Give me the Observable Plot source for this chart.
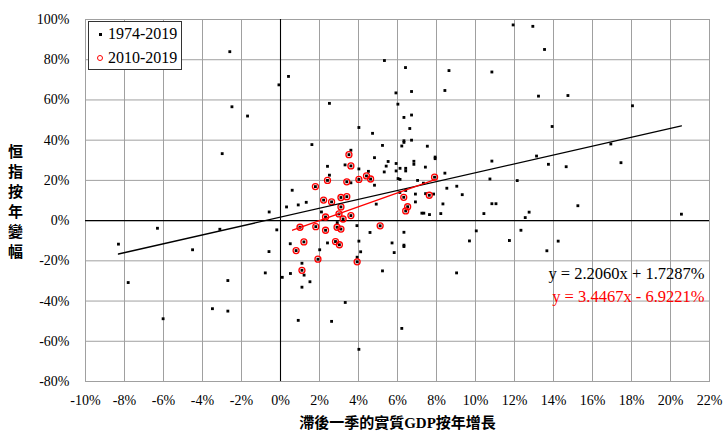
<!DOCTYPE html>
<html>
<head>
<meta charset="utf-8">
<script src="https://cdn.jsdelivr.net/npm/d3@7"></script>
<script src="https://cdn.jsdelivr.net/npm/@observablehq/plot@0.6"></script>
<style>
  body { margin: 0; background: #fff; }
  #wrap { position: relative; width: 723px; height: 431px; overflow: hidden; }
  .legend { position: absolute; left: 88px; top: 21px; width: 92px; height: 47px; border: 1px solid #333; background: #fff;
    font-family: "Liberation Serif", serif; font-size: 16px; color: #000; }
  .legend .row { position: absolute; left: 0; height: 18px; line-height: 18px; width: 92px; }
  .legend .sq { position: absolute; left: 9.5px; top: 7.5px; width: 3px; height: 3px; background: #000; }
  .legend .circ { position: absolute; left: 7.5px; top: 5.5px; width: 4.5px; height: 4.5px; border: 1.3px solid #ff0000; border-radius: 50%; }
  .legend .lbl { position: absolute; left: 19px; top: 0; }
</style>
</head>
<body>
<div id="wrap"></div>
<script>
// 1974-2009 quarters (black squares only) — x: lagged real GDP yoy %, y: HSI yoy %
const blackX = [-2.60, 0.41, -0.08, -2.49, -1.69, -2.99, 0.31, -0.58, -6.31, -3.11, -0.19, -8.31, -4.51, -0.59, 0.50, -0.78, 0.09, 0.51, -7.81, -2.70, -3.49, -2.70, -6.02,
  5.33, 6.41, 8.64, 5.92, 6.72, 8.43, 2.51, 6.02, 6.33, 6.72, 4.02, 6.63, 4.72, 1.61, 6.33, 6.33, 6.72, 5.23, 6.22, 7.53, 3.61, 4.82, 7.93, 7.93, 5.52, 6.84, 6.84, 5.93,
  2.41, 3.31, 5.42, 4.02, 6.13, 6.42, 6.42, 7.43, 2.51, 4.51, 5.32, 5.93, 8.43, 6.03, 6.13, 3.61, 7.03, 7.33, 4.82, 8.53, 9.04, 10.74, 0.60, 6.42, 6.12, 6.92, 7.44, 7.85,
  9.32, 1.32, 0.91, 6.92, 8.33, 4.91, 2.10, 2.91, 3.92, 4.59, 7.25, 7.35, 7.64, 8.22, 10.43, 6.33, 2.41, 4.02, 5.72, 6.33, 6.33, 2.01, 4.11, 5.83, 9.69, 10.04, 3.93,
  1.10, 5.23, 9.03, 1.21, 1.10, 1.51, 3.32, 0.91, 2.62, 6.22, 4.02,
  11.93, 12.94, 13.54, 10.84, 13.23, 14.74, 18.05, 13.93, 16.94, 10.84, 13.13, 13.74, 14.65, 17.46, 12.14, 10.84, 11.05, 15.25, 12.55, 12.75, 20.56, 12.33, 11.74, 14.24, 13.66];
const blackY = [84.0, 71.7, 67.5, 56.6, 52.0, 33.3, 6.8, 4.3, -3.8, -4.3, -4.6, -11.7, -14.5, -15.4, -11.5, -26.0, -28.2, -26.3, -30.8, -29.8, -43.8, -45.0, -48.8,
  79.6, 76.1, 74.6, 63.5, 64.2, 64.7, 58.3, 57.9, 51.3, 52.5, 46.3, 45.8, 43.4, 37.8, 39.7, 38.9, 40.0, 37.4, 37.1, 37.0, 35.0, 31.3, 31.6, 30.8, 29.4, 29.5, 28.0, 28.4,
  27.0, 27.7, 27.1, 25.7, 26.0, 26.0, 24.7, 26.6, 22.6, 24.5, 24.2, 24.7, 23.6, 20.9, 20.5, 18.8, 20.0, 18.6, 17.6, 16.1, 17.1, 20.7, 15.1, 15.0, 14.0, 13.2, 13.4, 13.2,
  12.9, 9.1, 7.8, 9.3, 8.3, 8.2, 4.3, -1.0, -2.5, -5.9, 3.7, 3.7, 3.0, 3.5, 3.5, -5.8, -11.1, -10.2, -11.1, -12.2, -12.9, -14.5, -15.5, -15.9, -10.1, -5.1, -18.2,
  -21.2, -25.0, -26.0, -27.1, -33.1, -30.4, -40.7, -49.6, -50.1, -53.6, -64.0,
  97.3, 96.6, 85.1, 73.9, 61.9, 62.2, 57.1, 46.8, 38.1, 29.6, 32.1, 28.0, 26.8, 28.8, 19.9, 8.4, 8.4, 7.4, 1.5, 4.2, 3.2, -4.8, -9.9, -10.2, -15.0];

// 2010-2019 quarters (red circles, also part of 1974-2019)
const redX = [3.51, 3.61, 4.41, 4.62, 7.90, 2.41, 3.40, 4.02, 1.79, 7.63, 6.32, 2.21, 2.62, 3.10, 3.40, 3.10, 6.52, 6.42, 3.00, 3.61,
  2.31, 3.21, 1.00, 1.81, 2.31, 2.90, 3.10, 5.11, 1.20, 2.82, 3.02, 0.80, 1.92, 3.93, 1.10];
const redY = [32.8, 27.2, 22.2, 20.7, 21.6, 20.0, 19.3, 20.5, 16.9, 12.6, 11.6, 10.2, 9.3, 11.5, 11.9, 6.8, 6.9, 4.8, 3.3, 2.5,
  1.8, 0.8, -3.3, -3.0, -4.8, -3.3, -4.2, -2.6, -10.6, -10.4, -12.0, -14.9, -19.2, -20.5, -24.7];

// Trendlines (slope, intercept %) and their drawn x ranges
const coefAll = [2.2060, 1.7287];
const coefRed = [3.4467, -6.9221];
const rangeAll = [-8.31, 20.56];
const rangeRed = [0.62, 7.92];

const seriesLabels = ["1974-2019", "2010-2019"];
const equationLabels = ["y = 2.2060x + 1.7287%", "y = 3.4467x - 6.9221%"];
const xTicks = [-10, -8, -6, -4, -2, 0, 2, 4, 6, 8, 10, 12, 14, 16, 18, 20, 22];
const yTicks = [-80, -60, -40, -20, 0, 20, 40, 60, 80, 100];
const xTitle = "滯後一季的實質GDP按年增長";
const yTitle = "恒指按年變幅";

const allPts = blackX.map((x, i) => ({x, y: blackY[i]})).concat(redX.map((x, i) => ({x, y: redY[i]})));
const redPts = redX.map((x, i) => ({x, y: redY[i]}));
const fitAll = rangeAll.map(x => ({x, y: coefAll[0] * x + coefAll[1]}));
const fitRed = rangeRed.map(x => ({x, y: coefRed[0] * x + coefRed[1]}));

const serif = '"Liberation Serif", "Times New Roman", serif';
const cjk = '"Liberation Serif", "Noto Sans CJK TC", serif';
const pct = d => d + "%";

const chart = Plot.plot({
  width: 723,
  height: 431,
  marginLeft: 85,
  marginRight: 14,
  marginTop: 19,
  marginBottom: 50,
  style: {fontFamily: serif, fontSize: "14px", background: "#fff", color: "#000", overflow: "visible"},
  x: {domain: [-10, 22]},
  y: {domain: [-80, 100]},
  marks: [
    Plot.gridX(xTicks, {stroke: "#a0a0a0", strokeOpacity: 1}),
    Plot.gridY(yTicks, {stroke: "#a0a0a0", strokeOpacity: 1}),
    Plot.frame({stroke: "#a0a0a0"}),
    Plot.axisX({ticks: xTicks, tickFormat: pct, tickSize: 0, tickPadding: 14, label: null, fontSize: 14, fontFamily: serif, fill: "#000"}),
    Plot.axisY({ticks: yTicks, tickFormat: pct, tickSize: 0, tickPadding: 16, label: null, fontSize: 14, fontFamily: serif, fill: "#000"}),
    Plot.ruleX([0], {stroke: "#000", strokeWidth: 1.1}),
    Plot.ruleY([0], {stroke: "#000", strokeWidth: 1.1}),
    Plot.dot(allPts, {x: "x", y: "y", symbol: "square", r: 1.6, fill: "#000", stroke: "none"}),
    Plot.dot(redPts, {x: "x", y: "y", r: 3, stroke: "#ff0000", strokeWidth: 1.3, fill: "none"}),
    Plot.line(fitAll, {x: "x", y: "y", stroke: "#000", strokeWidth: 1.3}),
    Plot.line(fitRed, {x: "x", y: "y", stroke: "#ff0000", strokeWidth: 1.3}),
    Plot.text([equationLabels[0]], {text: d => d, frameAnchor: "bottom-right", textAnchor: "end", dx: -5, dy: -103,
      fontSize: 16.5, fontFamily: serif, fill: "#000", ariaLabel: "equations"}),
    Plot.text([equationLabels[1]], {text: d => d, frameAnchor: "bottom-right", textAnchor: "end", dx: -5, dy: -80,
      fontSize: 16.5, fontFamily: serif, fill: "#ff0000", ariaLabel: "equations"}),
    Plot.text([xTitle], {text: d => d, frameAnchor: "bottom", dy: 46, fontSize: 15, fontWeight: "bold", fontFamily: cjk, fill: "#000"}),
    Plot.text([yTitle.split("").join("\n")], {text: d => d, frameAnchor: "left", textAnchor: "middle", dx: -70, lineHeight: 1.33,
      fontSize: 15, fontWeight: "bold", fontFamily: '"Noto Sans CJK TC", sans-serif', fill: "#000"})
  ]
});

const wrap = document.getElementById("wrap");
wrap.appendChild(chart);

// italic x / y in the equations, and a white box behind them
const svgns = "http://www.w3.org/2000/svg";
const eqGroups = chart.querySelectorAll('g[aria-label="equations"]');
eqGroups.forEach(g => {
  g.querySelectorAll("text").forEach(t => {
    const s = t.textContent;
    t.textContent = "";
    s.split(/([xy])/).forEach(p => {
      if (!p) return;
      const ts = document.createElementNS(svgns, "tspan");
      ts.textContent = p;
      if (p === "x" || p === "y") ts.setAttribute("style", "font-style: italic");
      t.appendChild(ts);
    });
  });
});
let bx0 = Infinity, by0 = Infinity, bx1 = -Infinity, by1 = -Infinity;
eqGroups.forEach(g => {
  const b = g.getBBox();
  bx0 = Math.min(bx0, b.x); by0 = Math.min(by0, b.y);
  bx1 = Math.max(bx1, b.x + b.width); by1 = Math.max(by1, b.y + b.height);
});
if (isFinite(bx0)) {
  const r = document.createElementNS(svgns, "rect");
  r.setAttribute("x", bx0 - 3); r.setAttribute("y", by0 - 1);
  r.setAttribute("width", bx1 - bx0 + 6); r.setAttribute("height", by1 - by0 + 2);
  r.setAttribute("fill", "#fff");
  eqGroups[0].parentNode.insertBefore(r, eqGroups[0]);
}

// legend inside plot area
const legend = document.createElement("div");
legend.className = "legend";
legend.innerHTML =
  `<div class="row" style="top:3px"><span class="sq"></span><span class="lbl">${seriesLabels[0]}</span></div>` +
  `<div class="row" style="top:27px"><span class="circ"></span><span class="lbl">${seriesLabels[1]}</span></div>`;
wrap.appendChild(legend);
</script>
</body>
</html>
